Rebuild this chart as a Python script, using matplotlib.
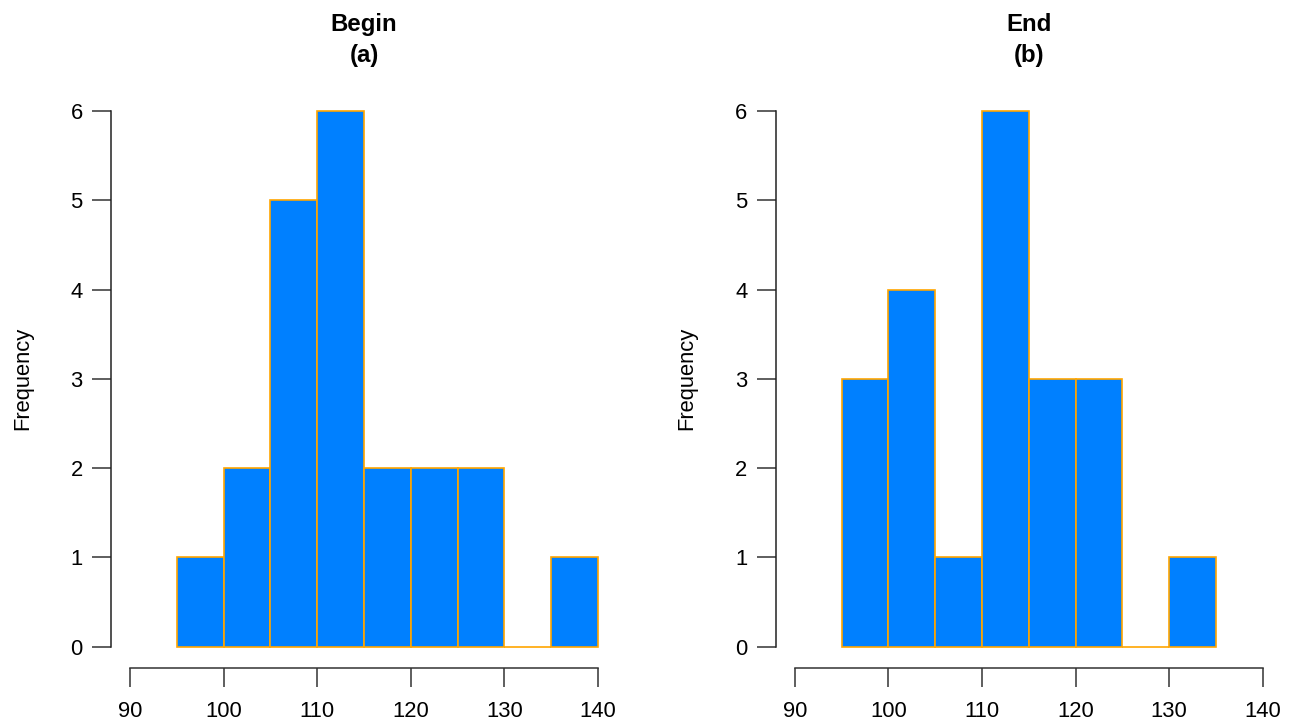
import matplotlib.pyplot as plt
import numpy as np

plt.rcParams['font.family'] = ['Liberation Sans', 'DejaVu Sans']

# histogram bins and counts
BeginEdges = [95, 100, 105, 110, 115, 120, 125, 130, 135, 140]
BeginCounts = [1, 2, 5, 6, 2, 2, 2, 0, 1]
EndEdges = [95, 100, 105, 110, 115, 120, 125, 130, 135]
EndCounts = [3, 4, 1, 6, 3, 3, 0, 1]
XTicks = [90, 100, 110, 120, 130, 140]
YTicks = [0, 1, 2, 3, 4, 5, 6]
Titles = ["Begin\n(a)", "End\n(b)"]

Fig = plt.figure(figsize=(12.91, 7.22), dpi=100)
Lefts = [0.0862, 0.6011]

for i, (Edges, Counts) in enumerate([(BeginEdges, BeginCounts), (EndEdges, EndCounts)]):
    Ax = Fig.add_axes([Lefts[i], 0.0748, 0.3915, 0.801])
    Ax.bar(Edges[:-1], Counts, width=np.diff(Edges), align='edge',
           color='#0080FF', edgecolor='#FFA500', linewidth=1.2)
    Ax.set_xlim(88, 142)
    Ax.set_ylim(-0.24, 6.24)
    Ax.set_xticks(XTicks)
    Ax.set_yticks(YTicks)
    for s in ['top', 'right']:
        Ax.spines[s].set_visible(False)
    Ax.spines['left'].set_bounds(0, 6)
    Ax.spines['bottom'].set_bounds(90, 140)
    Ax.spines['left'].set_color('#222222')
    Ax.spines['bottom'].set_color('#333333')
    Ax.spines['left'].set_linewidth(1.1)
    Ax.spines['bottom'].set_linewidth(1.1)
    Ax.tick_params(axis='both', length=14, width=1.1, color='#333333',
                   labelsize=15.8)
    Ax.tick_params(axis='x', pad=10)
    Ax.tick_params(axis='y', pad=6.5)
    for t in Ax.get_xticklabels() + Ax.get_yticklabels():
        t.set_color('black')
    Ax.set_ylabel("Frequency", fontsize=15.8)
    Ax.yaxis.set_label_coords(-0.155, 0.5)
    Ax.set_title(Titles[i], fontsize=17.3, fontweight='bold', pad=20, linespacing=1.45)

plt.savefig("out.png", dpi=100)
